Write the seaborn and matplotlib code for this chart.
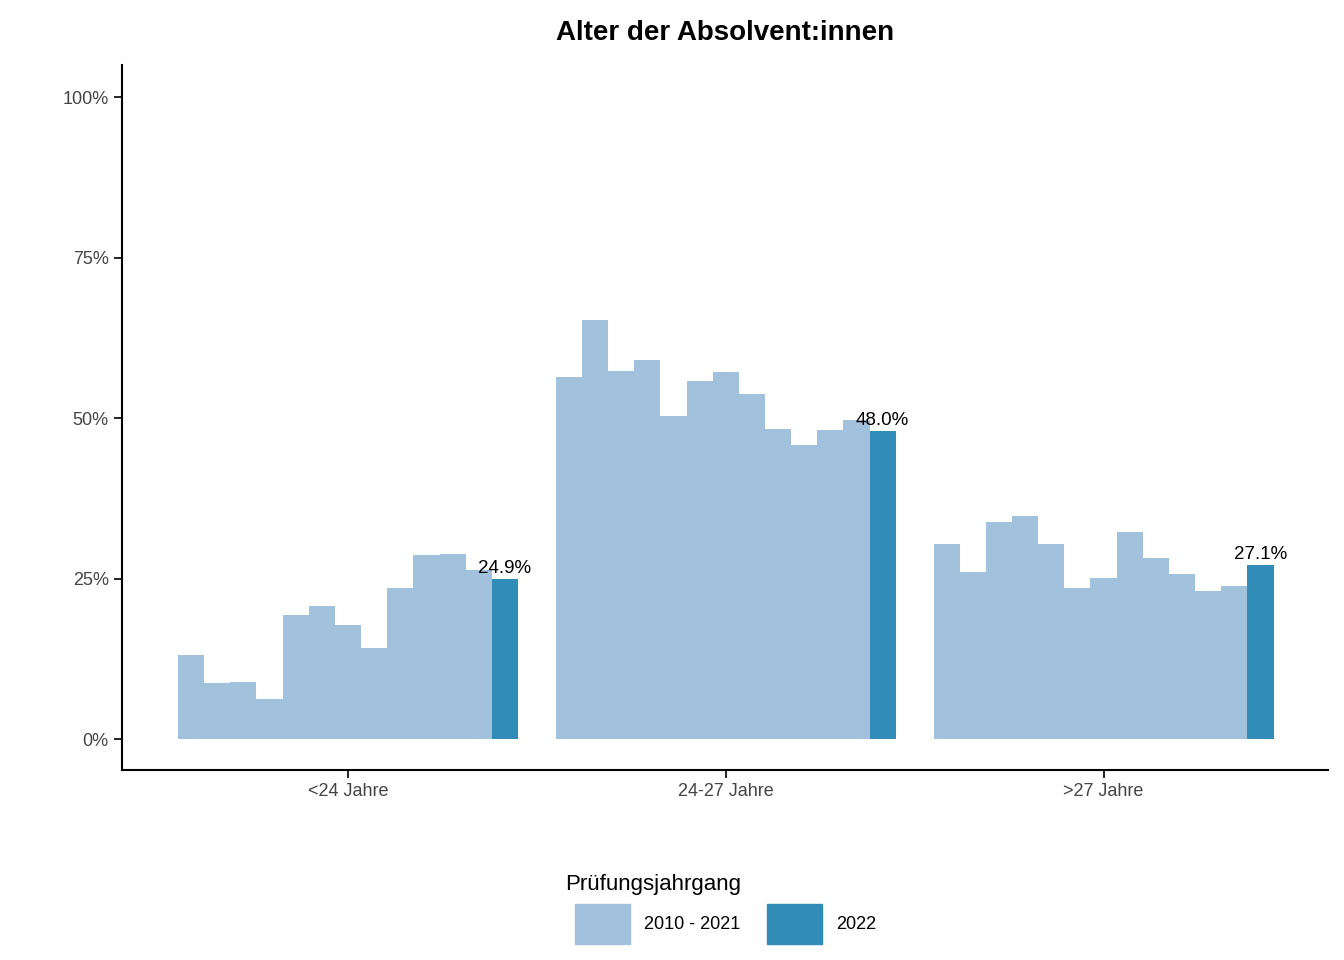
import matplotlib
matplotlib.use("Agg")
import matplotlib.pyplot as plt
import seaborn as sns
import pandas as pd
from matplotlib.patches import Patch

categories = ["<24 Jahre", "24-27 Jahre", ">27 Jahre"]
years = [str(y) for y in range(2010, 2023)]
v_lt24 = [13.1, 8.7, 8.9, 6.2, 19.3, 20.7, 17.8, 14.2, 23.5, 28.7, 28.8, 26.3, 24.9]
v_2427 = [56.5, 65.3, 57.3, 59.0, 50.3, 55.8, 57.2, 53.7, 48.3, 45.8, 48.1, 49.8, 48.0]
v_gt27 = [30.4, 26.0, 33.8, 34.7, 30.4, 23.5, 25.1, 32.2, 28.2, 25.7, 23.1, 23.8, 27.1]

light, dark = "#a1c1dc", "#318cb8"
rows = []
for cat, vals in zip(categories, [v_lt24, v_2427, v_gt27]):
    for y, v in zip(years, vals):
        rows.append({"cat": cat, "year": y, "val": v / 100})
df = pd.DataFrame(rows)

plt.rcParams["font.family"] = "Liberation Sans"
fig = plt.figure(figsize=(13.44, 9.6), dpi=100)
ax = fig.add_axes([0.0908, 0.198, 0.897, 0.734])
pal = {y: (dark if y == "2022" else light) for y in years}
sns.barplot(data=df, x="cat", y="val", hue="year", order=categories, hue_order=years,
            palette=pal, width=0.9, gap=0, saturation=1, legend=False, ax=ax,
            linewidth=0, errorbar=None)

n = len(years)
bw = 0.9 / n
for i, vals in enumerate([v_lt24, v_2427, v_gt27]):
    xc = i - 0.45 + bw * (n - 0.5)
    ax.text(xc, vals[-1] / 100 + 0.003, f"{vals[-1]:.1f}%", ha="center", va="bottom", fontsize=13.5)

ax.set_xlim(-0.598, 2.593)
ax.set_ylim(-0.048, 1.05)
ax.set_yticks([0, 0.25, 0.5, 0.75, 1.0])
ax.set_yticklabels(["0%", "25%", "50%", "75%", "100%"])
ax.tick_params(labelsize=13, colors="#444444", length=6, width=1.2)
ax.tick_params(axis="both", color="black")
ax.set_xlabel("")
ax.set_ylabel("")
for s in ["top", "right"]:
    ax.spines[s].set_visible(False)
for s in ["left", "bottom"]:
    ax.spines[s].set_linewidth(1.5)
ax.set_title("Alter der Absolvent:innen", fontsize=20, fontweight="bold", pad=18)

handles = [Patch(color=light, label="2010 - 2021"), Patch(color=dark, label="2022")]
leg = fig.legend(handles=handles, title="Prüfungsjahrgang", loc="center", ncol=2,
                 bbox_to_anchor=(0.54, 0.053), frameon=False, fontsize=13,
                 title_fontsize=16, handlelength=3, handleheight=3, columnspacing=1.5)
leg._legend_box.align = "left"
leg.get_title().set_position((-10, 0))
# place title inline
from matplotlib.offsetbox import HPacker
lb = leg._legend_box
lb._children = [HPacker(children=list(lb.get_children()), pad=0, sep=15, align="center")] if False else lb._children
fig.savefig("out.png", dpi=100)
